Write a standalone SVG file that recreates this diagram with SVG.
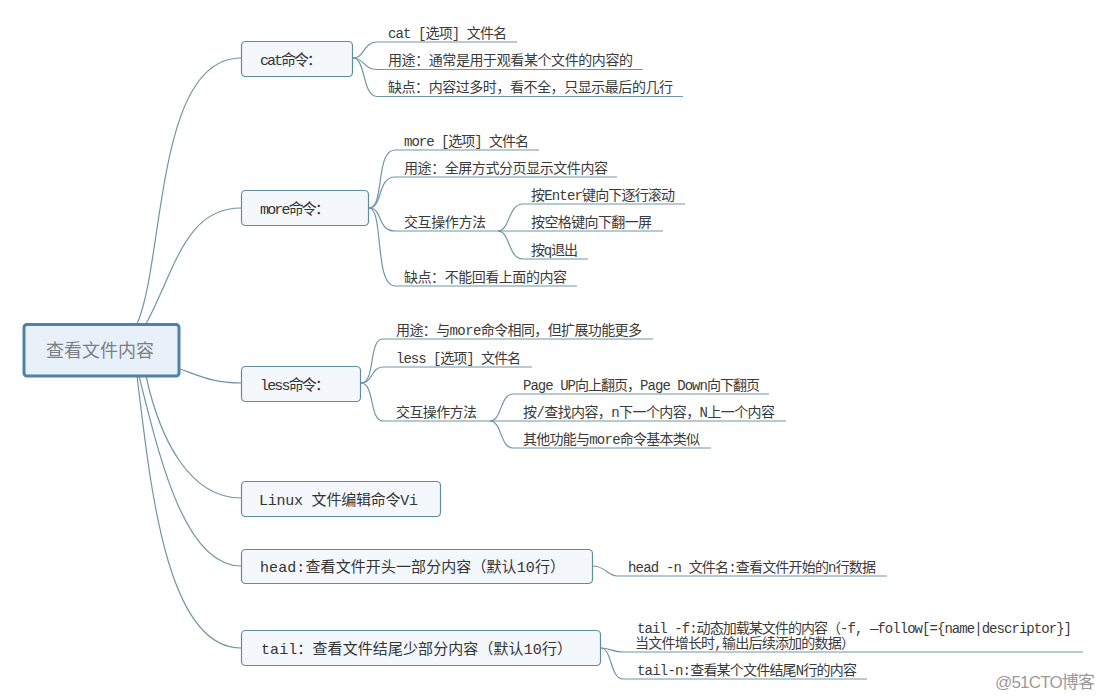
<svg xmlns="http://www.w3.org/2000/svg" width="1104" height="700" viewBox="0 0 1104 700">
<style>
text{font-family:"Liberation Mono","Noto Sans CJK SC",monospace;font-size:14px;fill:#3a3a3a}
.b{font-size:15px;fill:#333}
.box{fill:#f4f8fc;stroke:#5f8c9f;stroke-width:1.2}
#connectors path{fill:none;stroke:#6f96a6;stroke-width:1.2}
</style>
<rect width="1104" height="700" fill="#fff"/>
<g id="connectors">
<path d="M137 324C165 260 155 58 241 58"/>
<path d="M146 324C175 270 185 208 241 208"/>
<path d="M180 369C205 378 215 383 241 383"/>
<path d="M146 376C160 440 190 498 241 498"/>
<path d="M139 376C160 460 185 566 241 566"/>
<path d="M137 376C150 480 165 648 241 648"/>
<path d="M353 58C365 58 363 42 377 42H517"/>
<path d="M353 58C365 58 363 69.500 377 69.500H643"/>
<path d="M353 58C366 58 362 96.500 377 96.500H683"/>
<path d="M369 208C385 208 375 150 395 150H539"/>
<path d="M369 208C383 208 377 177 395 177H617"/>
<path d="M369 208C383 208 377 231 395 231H498"/>
<path d="M369 208C384 208 374 286 395 286H577"/>
<path d="M498 231C510 231 508 204 523 204H685"/>
<path d="M498 231H663"/>
<path d="M498 231C510 231 508 259 523 259H588"/>
<path d="M361 383C376 383 368 339 383 339H653"/>
<path d="M361 383C373 383 371 367 383 367H532"/>
<path d="M361 383C375 383 369 421 383 421H490"/>
<path d="M490 421C502 421 500 394 513 394H769"/>
<path d="M490 421H786"/>
<path d="M490 421C502 421 500 448 513 448H711"/>
<path d="M593 566C605 566 608 576 617 576H887"/>
<path d="M601 648C610 648 612 652 623 652H1083"/>
<path d="M601 648C612 648 610 679 623 679H867"/>
</g>
<g id="root">
<rect x="24" y="324.500" width="155" height="51.500" rx="3" fill="#e8f1fa" stroke="#4f82a6" stroke-width="3"/>
<text x="46" y="357" style="font-size:18px;fill:#7a7f85" textLength="108">查看文件内容</text>
</g>
<g id="cat"><rect class="box" x="241.500" y="41.500" width="111" height="35" rx="4"/><text class="b" x="260" y="65" textLength="62">cat命令：</text></g>
<g id="more"><rect class="box" x="241.500" y="190.500" width="127" height="35" rx="4"/><text class="b" x="260" y="214" textLength="70">more命令：</text></g>
<g id="less"><rect class="box" x="241.500" y="366.500" width="119" height="35" rx="4"/><text class="b" x="260" y="390" textLength="70">less命令：</text></g>
<g id="vi"><rect class="box" x="241.500" y="481.500" width="199" height="35" rx="4"/><text class="b" x="259" y="505" textLength="159">Linux 文件编辑命令Vi</text></g>
<g id="head"><rect class="box" x="241.500" y="549.500" width="351" height="34" rx="4"/><text class="b" x="260" y="572" textLength="305">head:查看文件开头一部分内容（默认10行）</text></g>
<g id="tail"><rect class="box" x="241.500" y="630.500" width="359" height="35" rx="4"/><text class="b" x="261" y="654" textLength="311">tail：查看文件结尾少部分内容（默认10行）</text></g>
<g id="cat-1"><text x="388" y="38" textLength="119">cat [选项] 文件名</text></g>
<g id="cat-2"><text x="388" y="65" textLength="245">用途：通常是用于观看某个文件的内容的</text></g>
<g id="cat-3"><text x="388" y="92" textLength="285">缺点：内容过多时，看不全，只显示最后的几行</text></g>
<g id="more-1"><text x="404" y="146" textLength="125">more [选项] 文件名</text></g>
<g id="more-2"><text x="404" y="173" textLength="204">用途：全屏方式分页显示文件内容</text></g>
<g id="more-3"><text x="404" y="227" textLength="82">交互操作方法</text></g>
<g id="more-3-1"><text x="531" y="200" textLength="144">按Enter键向下逐行滚动</text></g>
<g id="more-3-2"><text x="531" y="227" textLength="121">按空格键向下翻一屏</text></g>
<g id="more-3-3"><text x="531" y="255" textLength="47">按q退出</text></g>
<g id="more-4"><text x="404" y="282" textLength="163">缺点：不能回看上面的内容</text></g>
<g id="less-1"><text x="396" y="335" textLength="246">用途：与more命令相同，但扩展功能更多</text></g>
<g id="less-2"><text x="396" y="363" textLength="125">less [选项] 文件名</text></g>
<g id="less-3"><text x="396" y="417" textLength="81">交互操作方法</text></g>
<g id="less-3-1"><text x="523" y="390" textLength="237">Page UP向上翻页，Page Down向下翻页</text></g>
<g id="less-3-2"><text x="523" y="417" textLength="252">按/查找内容，n下一个内容，N上一个内容</text></g>
<g id="less-3-3"><text x="523" y="444" textLength="177">其他功能与more命令基本类似</text></g>
<g id="head-1"><text x="628" y="572" textLength="248">head -n 文件名:查看文件开始的n行数据</text></g>
<g id="tail-1"><text x="637" y="633" textLength="435">tail -f:动态加载某文件的内容（-f, —follow[={name|descriptor}]</text><text x="635" y="648" textLength="220">当文件增长时,输出后续添加的数据）</text></g>
<g id="tail-2"><text x="637" y="675" textLength="220">tail-n:查看某个文件结尾N行的内容</text></g>
<text x="995" y="688" style="font-family:'Liberation Sans','Noto Sans CJK SC',sans-serif;font-size:17px;fill:#9a9a9a" textLength="100">@51CTO博客</text>
</svg>
